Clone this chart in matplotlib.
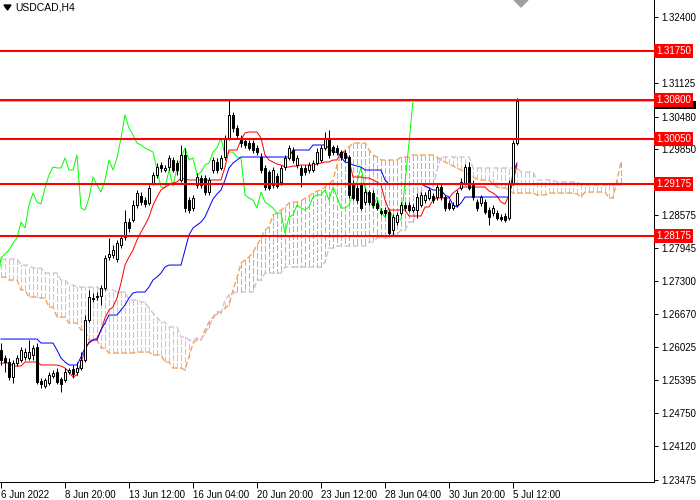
import numpy as np
import matplotlib.pyplot as plt
from matplotlib.patches import Polygon, Rectangle

plt.rcParams['font.family'] = ['Liberation Sans', 'DejaVu Sans']

### chart data, USDCAD H4, bar 0 = 6 Jun 2022
symbol = 'USDCAD,H4'

opens = [1.25975, 1.25821, 1.25744, 1.25454, 1.25724, 1.25782, 1.25840, 1.25821, 1.25879, 1.26033,
         1.25377, 1.25280, 1.25339, 1.25474, 1.25551, 1.25416, 1.25396, 1.25551, 1.25609, 1.25551,
         1.25628, 1.25782, 1.26554, 1.26979, 1.26998, 1.27017, 1.27172, 1.27770, 1.27809, 1.27731,
         1.28002, 1.28156, 1.28445, 1.28484, 1.28773, 1.28947, 1.28870, 1.28812, 1.29198, 1.29353,
         1.29546, 1.29449, 1.29507, 1.29642, 1.29584, 1.29256, 1.29739, 1.28870, 1.28716, 1.29160,
         1.29295, 1.29295, 1.29024, 1.29449, 1.29604, 1.29488, 1.29700, 1.30067, 1.30511, 1.30260,
         1.30067, 1.30009, 1.29970, 1.29970, 1.29874, 1.29700, 1.29488, 1.29410, 1.29160, 1.29333,
         1.29218, 1.29507, 1.29681, 1.29835, 1.29546, 1.29488, 1.29488, 1.29449, 1.29449, 1.29584,
         1.29642, 1.29874, 1.30067, 1.29893, 1.29874, 1.29796, 1.29777, 1.29700, 1.29198, 1.29102,
         1.29160, 1.28831, 1.29024, 1.29005, 1.28812, 1.28658, 1.28677, 1.28638, 1.28291, 1.28445,
         1.28619, 1.28773, 1.28773, 1.28677, 1.28677, 1.28773, 1.28870, 1.28909, 1.28947, 1.28928,
         1.29121, 1.28928, 1.28812, 1.28716, 1.28773, 1.29102, 1.29198, 1.29507, 1.29198, 1.28831,
         1.28812, 1.28831, 1.28677, 1.28619, 1.28619, 1.28542, 1.28561, 1.28523, 1.29198, 1.29970]

highs = [1.26110, 1.25879, 1.25821, 1.25782, 1.25879, 1.26033, 1.26014, 1.26168, 1.26072, 1.26110,
         1.25435, 1.25435, 1.25551, 1.25590, 1.25628, 1.25454, 1.25628, 1.25628, 1.25686, 1.25744,
         1.25936, 1.26650, 1.27133, 1.27075, 1.27094, 1.27230, 1.27809, 1.28137, 1.28002, 1.28098,
         1.28195, 1.28677, 1.28523, 1.28870, 1.29063, 1.29024, 1.28928, 1.29160, 1.29410, 1.29584,
         1.29604, 1.29546, 1.29739, 1.29700, 1.29642, 1.29932, 1.29874, 1.28928, 1.28967, 1.29391,
         1.29353, 1.29353, 1.29314, 1.29700, 1.29681, 1.29739, 1.30125, 1.30800, 1.30568, 1.30318,
         1.30125, 1.30067, 1.30028, 1.30028, 1.29932, 1.29777, 1.29546, 1.29449, 1.29507, 1.29391,
         1.29546, 1.29739, 1.29932, 1.29893, 1.29739, 1.29546, 1.29546, 1.29604, 1.29642, 1.29874,
         1.29932, 1.30182, 1.30221, 1.29932, 1.29932, 1.29835, 1.29835, 1.29739, 1.29256, 1.29160,
         1.29218, 1.29102, 1.29063, 1.29063, 1.28870, 1.28716, 1.28735, 1.28677, 1.28600, 1.28638,
         1.28831, 1.28831, 1.28831, 1.28793, 1.29005, 1.29024, 1.29024, 1.29121, 1.29005, 1.29198,
         1.29179, 1.28967, 1.28870, 1.28831, 1.29063, 1.29295, 1.29565, 1.29604, 1.29256, 1.28889,
         1.28967, 1.28889, 1.28735, 1.28773, 1.28677, 1.28600, 1.28619, 1.29256, 1.30028, 1.30839]

lows = [1.25686, 1.25551, 1.25396, 1.25339, 1.25667, 1.25744, 1.25782, 1.25782, 1.25782, 1.25319,
        1.25242, 1.25242, 1.25300, 1.25435, 1.25319, 1.25164, 1.25358, 1.25512, 1.25435, 1.25493,
        1.25590, 1.25744, 1.26515, 1.26901, 1.26940, 1.26843, 1.27133, 1.27712, 1.27751, 1.27674,
        1.27944, 1.28098, 1.28252, 1.28445, 1.28716, 1.28773, 1.28735, 1.28773, 1.29160, 1.29295,
        1.29410, 1.29410, 1.29449, 1.29410, 1.29353, 1.29218, 1.28638, 1.28619, 1.28658, 1.29102,
        1.29102, 1.28965, 1.28965, 1.29391, 1.29391, 1.29449, 1.29642, 1.30028, 1.30182, 1.30067,
        1.29893, 1.29874, 1.29835, 1.29777, 1.29739, 1.29391, 1.29063, 1.29063, 1.29102, 1.29102,
        1.29160, 1.29449, 1.29642, 1.29584, 1.29488, 1.29121, 1.29353, 1.29391, 1.29410, 1.29546,
        1.29604, 1.29835, 1.29681, 1.29739, 1.29739, 1.29642, 1.29623, 1.28909, 1.28870, 1.28812,
        1.28677, 1.28773, 1.28773, 1.28716, 1.28677, 1.28580, 1.28561, 1.28195, 1.28195, 1.28388,
        1.28580, 1.28658, 1.28638, 1.28638, 1.28523, 1.28735, 1.28812, 1.28870, 1.28812, 1.28870,
        1.28870, 1.28658, 1.28677, 1.28677, 1.28735, 1.29063, 1.29160, 1.29063, 1.28870, 1.28658,
        1.28754, 1.28600, 1.28388, 1.28561, 1.28484, 1.28465, 1.28445, 1.28484, 1.29160, 1.29932]

closes = [1.25782, 1.25744, 1.25454, 1.25724, 1.25821, 1.25975, 1.25936, 1.25936, 1.26014, 1.25358,
          1.25319, 1.25396, 1.25493, 1.25532, 1.25358, 1.25319, 1.25551, 1.25590, 1.25512, 1.25628,
          1.25782, 1.26554, 1.26998, 1.26959, 1.27017, 1.27172, 1.27751, 1.27828, 1.27905, 1.28040,
          1.28137, 1.28445, 1.28330, 1.28773, 1.29005, 1.28831, 1.28793, 1.29102, 1.29353, 1.29507,
          1.29488, 1.29488, 1.29681, 1.29449, 1.29449, 1.29739, 1.28716, 1.28677, 1.28909, 1.29314,
          1.29160, 1.29024, 1.29256, 1.29642, 1.29449, 1.29681, 1.30067, 1.30511, 1.30260, 1.30125,
          1.29970, 1.29932, 1.29874, 1.29835, 1.29796, 1.29449, 1.29121, 1.29102, 1.29449, 1.29140,
          1.29488, 1.29681, 1.29874, 1.29642, 1.29681, 1.29353, 1.29410, 1.29546, 1.29584, 1.29796,
          1.29874, 1.30067, 1.29739, 1.29796, 1.29796, 1.29700, 1.29681, 1.28967, 1.28909, 1.28870,
          1.28716, 1.29024, 1.28831, 1.28773, 1.28716, 1.28619, 1.28619, 1.28233, 1.28542, 1.28580,
          1.28773, 1.28716, 1.28677, 1.28735, 1.28928, 1.28967, 1.28967, 1.29063, 1.28870, 1.29121,
          1.28928, 1.28716, 1.28716, 1.28773, 1.29005, 1.29218, 1.29507, 1.29102, 1.28928, 1.28716,
          1.28928, 1.28638, 1.28542, 1.28716, 1.28523, 1.28503, 1.28484, 1.29198, 1.29970, 1.30781]

# Ichimoku lines
tenkan = [1.25724, 1.25724, 1.25724, 1.25667, 1.25667, 1.25667, 1.25744, 1.25744, 1.25744, 1.25744,
          1.25686, 1.25686, 1.25686, 1.25686, 1.25686, 1.25667, 1.25628, 1.25551, 1.25454, 1.25493,
          1.25724, 1.25975, 1.26129, 1.26168, 1.26207, 1.26361, 1.26593, 1.26747, 1.26805, 1.26979,
          1.27268, 1.27615, 1.27770, 1.27905, 1.28098, 1.28252, 1.28388, 1.28542, 1.28773, 1.28928,
          1.29063, 1.29121, 1.29160, 1.29198, 1.29218, 1.29295, 1.29275, 1.29256, 1.29256, 1.29256,
          1.29256, 1.29256, 1.29256, 1.29256, 1.29256, 1.29256, 1.29507, 1.29835, 1.29835, 1.29835,
          1.30028, 1.30163, 1.30182, 1.30182, 1.30182, 1.30067, 1.29739, 1.29642, 1.29604, 1.29565,
          1.29546, 1.29507, 1.29507, 1.29526, 1.29526, 1.29546, 1.29546, 1.29546, 1.29546, 1.29565,
          1.29584, 1.29604, 1.29604, 1.29642, 1.29642, 1.29796, 1.29796, 1.29642, 1.29314, 1.29314,
          1.29314, 1.29295, 1.29295, 1.29256, 1.29218, 1.29160, 1.28870, 1.28677, 1.28677, 1.28677,
          1.28677, 1.28677, 1.28561, 1.28561, 1.28561, 1.28561, 1.28735, 1.28735, 1.28870, 1.28909,
          1.28909, 1.28909, 1.28909, 1.29005, 1.29063, 1.29121, 1.29121, 1.29121, 1.29121, 1.29121,
          1.29121, 1.29121, 1.29044, 1.29005, 1.28947, 1.28831, 1.28793, 1.28967, 1.29218, 1.29546]

kijun = [1.26187, 1.26187, 1.26187, 1.26187, 1.26187, 1.26187, 1.26187, 1.26187, 1.26187, 1.26187,
         1.26110, 1.26110, 1.26110, 1.26110, 1.25975, 1.25821, 1.25744, 1.25686, 1.25686, 1.25686,
         1.25840, 1.26014, 1.26110, 1.26168, 1.26168, 1.26361, 1.26496, 1.26650, 1.26650, 1.26650,
         1.26747, 1.26843, 1.26979, 1.27075, 1.27094, 1.27094, 1.27094, 1.27191, 1.27326, 1.27384,
         1.27461, 1.27577, 1.27615, 1.27615, 1.27615, 1.27615, 1.27905, 1.28195, 1.28330, 1.28388,
         1.28445, 1.28542, 1.28716, 1.28889, 1.28986, 1.29063, 1.29256, 1.29488, 1.29584, 1.29642,
         1.29700, 1.29700, 1.29700, 1.29700, 1.29700, 1.29700, 1.29700, 1.29700, 1.29700, 1.29700,
         1.29700, 1.29700, 1.29700, 1.29835, 1.29835, 1.29835, 1.29835, 1.29835, 1.29932, 1.29932,
         1.29932, 1.29932, 1.29874, 1.29796, 1.29796, 1.29700, 1.29604, 1.29584, 1.29546, 1.29526,
         1.29507, 1.29449, 1.29449, 1.29449, 1.29449, 1.29449, 1.29256, 1.29179, 1.29179, 1.29179,
         1.29179, 1.29179, 1.29179, 1.29179, 1.29179, 1.29179, 1.29140, 1.29102, 1.29063, 1.29063,
         1.29063, 1.28967, 1.28928, 1.28773, 1.28735, 1.28812, 1.28928, 1.28928, 1.28928, 1.28928,
         1.28928, 1.28928, 1.28928, 1.28928, 1.28928, 1.28928, 1.28928, 1.28928, 1.29391, 1.29584]

# senkou spans, already plotted 26 bars ahead (bars 0..155)
span_a = [1.27384, 1.27384, 1.27326, 1.27326, 1.27326, 1.27133, 1.27133, 1.26998, 1.26998, 1.26998,
          1.26979, 1.26979, 1.26805, 1.26805, 1.26612, 1.26612, 1.26612, 1.26496, 1.26496, 1.26496,
          1.26361, 1.26361, 1.26168, 1.26168, 1.26168, 1.26014, 1.26014, 1.25917, 1.25917, 1.25917,
          1.25917, 1.25917, 1.25917, 1.25917, 1.25936, 1.25936, 1.25936, 1.25936, 1.25879, 1.25879,
          1.25879, 1.25744, 1.25744, 1.25628, 1.25628, 1.25628, 1.25590, 1.25840, 1.26110, 1.26168,
          1.26168, 1.26361, 1.26515, 1.26612, 1.26708, 1.26708, 1.26786, 1.26843, 1.27133, 1.27365,
          1.27654, 1.27712, 1.27770, 1.27866, 1.28002, 1.28137, 1.28291, 1.28349, 1.28580, 1.28619,
          1.28677, 1.28735, 1.28812, 1.28831, 1.28831, 1.28851, 1.28909, 1.28947, 1.29005, 1.29044,
          1.29063, 1.29121, 1.29179, 1.29256, 1.29546, 1.29739, 1.29835, 1.29893, 1.29970, 1.29970,
          1.29970, 1.29970, 1.29835, 1.29739, 1.29700, 1.29642, 1.29642, 1.29642, 1.29642, 1.29642,
          1.29700, 1.29700, 1.29700, 1.29739, 1.29739, 1.29739, 1.29739, 1.29739, 1.29739, 1.29700,
          1.29642, 1.29604, 1.29565, 1.29526, 1.29488, 1.29449, 1.29410, 1.29353, 1.29314, 1.29275,
          1.29256, 1.29256, 1.29256, 1.29179, 1.29121, 1.29102, 1.29102, 1.29063, 1.29005, 1.29005,
          1.29005, 1.29005, 1.29005, 1.29005, 1.28967, 1.28967, 1.28967, 1.29005, 1.29005, 1.29005,
          1.29005, 1.29005, 1.29005, 1.29005, 1.28986, 1.28928, 1.29024, 1.29024, 1.29024, 1.29024,
          1.29024, 1.29024, 1.28909, 1.28909, 1.29256, 1.29604]

span_b = [1.27731, 1.27731, 1.27731, 1.27731, 1.27731, 1.27615, 1.27615, 1.27615, 1.27558, 1.27558,
          1.27558, 1.27461, 1.27461, 1.27461, 1.27461, 1.27326, 1.27326, 1.27230, 1.27230, 1.27191,
          1.27191, 1.27191, 1.27191, 1.27191, 1.27191, 1.27133, 1.27133, 1.27133, 1.27133, 1.27094,
          1.27094, 1.27094, 1.26940, 1.26940, 1.26940, 1.26901, 1.26901, 1.26786, 1.26689, 1.26612,
          1.26515, 1.26515, 1.26419, 1.26419, 1.26419, 1.26226, 1.26226, 1.26168, 1.26168, 1.26207,
          1.26168, 1.26303, 1.26419, 1.26593, 1.26670, 1.26689, 1.26940, 1.27036, 1.27075, 1.27094,
          1.27094, 1.27094, 1.27094, 1.27094, 1.27326, 1.27326, 1.27461, 1.27461, 1.27461, 1.27461,
          1.27461, 1.27577, 1.27577, 1.27577, 1.27577, 1.27577, 1.27577, 1.27577, 1.27577, 1.27577,
          1.27577, 1.27674, 1.27944, 1.27944, 1.27982, 1.27982, 1.27982, 1.27982, 1.27982, 1.27982,
          1.27982, 1.27982, 1.28059, 1.28059, 1.28137, 1.28137, 1.28137, 1.28137, 1.28214, 1.28214,
          1.28291, 1.28291, 1.28445, 1.28445, 1.28773, 1.29024, 1.29121, 1.29121, 1.29121, 1.29449,
          1.29700, 1.29700, 1.29700, 1.29700, 1.29700, 1.29700, 1.29700, 1.29700, 1.29488, 1.29488,
          1.29488, 1.29488, 1.29488, 1.29488, 1.29488, 1.29488, 1.29488, 1.29488, 1.29488, 1.29488,
          1.29410, 1.29410, 1.29410, 1.29410, 1.29256, 1.29256, 1.29256, 1.29256, 1.29256, 1.29218,
          1.29218, 1.29218, 1.29218, 1.29218, 1.29218, 1.29160, 1.29160, 1.29160, 1.29160, 1.29160,
          1.29160, 1.29160, 1.29160, 1.29160, 1.29160, 1.29160]

chikou_shift = 26

levels = [1.31750, 1.30800, 1.30050, 1.29175, 1.28175]
price_ticks = [1.32400, 1.31125, 1.30480, 1.29850, 1.28575, 1.27945, 1.27300,
               1.26670, 1.26025, 1.25395, 1.24750, 1.24120, 1.23475]
time_ticks = [0, 16, 32, 48, 64, 80, 96, 112, 128]
time_labels = ['6 Jun 2022', '8 Jun 20:00', '13 Jun 12:00', '16 Jun 04:00', '20 Jun 20:00',
               '23 Jun 12:00', '28 Jun 04:00', '30 Jun 20:00', '5 Jul 12:00']

### figure, laid out like the terminal window
fig = plt.figure(figsize=(7, 5), dpi=100)
ax = fig.add_axes([0, 18 / 500, 654 / 700, 482 / 500])
ax.set_xlim(-0.25, 163.25)
ax.set_ylim(1.23428, 1.3273)

px = 0.72  # one pixel in points
dot = (0, (4, 2))
orange = '#F4A460'
thistle = '#D8BFD8'

### cloud: dotted vertical stroke per bar between the spans
a = np.array(span_a)
b = np.array(span_b)
cx = np.arange(len(a))
up = a >= b
for mask, colr in [(up, orange), (~up, thistle)]:
    xs = np.column_stack([cx[mask], cx[mask], np.full(mask.sum(), np.nan)]).ravel()
    ys = np.column_stack([a[mask], b[mask], np.full(mask.sum(), np.nan)]).ravel()
    ax.plot(xs, ys, color=colr, ls=dot, lw=1.0, antialiased=False, zorder=1)
ax.plot(cx, a, color=orange, ls=dot, lw=1.0, zorder=1)
ax.plot(cx, b, color=thistle, ls=dot, lw=1.0, zorder=1)

### ichimoku lines
bars = np.arange(len(closes))
ax.plot(bars - chikou_shift, closes, color='#00FF00', lw=px, zorder=2)
ax.plot(bars, tenkan, color='#FF0000', lw=px, zorder=2)
ax.plot(bars, kijun, color='#0000FF', lw=px, zorder=2)

### candles
o = np.array(opens)
c = np.array(closes)
ax.vlines(bars, lows, highs, color='black', lw=px, zorder=3)
bottoms = np.minimum(o, c)
heights = np.maximum(np.abs(c - o), 0.00002)
fills = ['white' if cc > oo else 'black' for oo, cc in zip(o, c)]
ax.bar(bars, heights, bottom=bottoms, width=0.5, color=fills, edgecolor='black',
       linewidth=px, zorder=4)

### bid line, current price marker sits under the level label
ax.axhline(closes[-1], color='#C0C0C0', lw=px, zorder=2)
ax.add_patch(Rectangle((1.0015, closes[-1] - 0.0015), 0.062, 0.0015, fc='black', ec='none',
                       transform=ax.get_yaxis_transform(), clip_on=False, zorder=9))

### horizontal levels
for lvl in levels:
    ax.axhline(lvl, color='#FF0000', lw=1.5, zorder=6)
    ax.text(1.003, lvl, f'{lvl:.5f}', transform=ax.get_yaxis_transform(), color='white',
            fontsize=7, ha='left', va='center', clip_on=False, zorder=10,
            bbox=dict(boxstyle='square,pad=0.2', fc='#FF0000', ec='none'))

### axes
for side in ['top', 'left']:
    ax.spines[side].set_visible(False)
for side in ['right', 'bottom']:
    ax.spines[side].set_linewidth(px)
ax.yaxis.tick_right()
ax.set_yticks(price_ticks)
ax.set_yticklabels([f'{t:.5f}' for t in price_ticks])
ax.set_xticks(time_ticks)
ax.set_xticklabels(time_labels, ha='left')
ax.tick_params(axis='y', direction='out', length=3, width=px, labelsize=7, pad=2)
ax.tick_params(axis='x', direction='out', length=4, width=px, labelsize=7, pad=2)

### symbol caption and shift marker
ax.add_patch(Polygon([(4 / 654, 1 - 5 / 482), (11 / 654, 1 - 5 / 482), (7.5 / 654, 1 - 10 / 482)],
                     closed=True, color='black', transform=ax.transAxes, clip_on=False))
ax.text(15 / 654, 1 - 8 / 482, symbol, transform=ax.transAxes, fontsize=7.5,
        ha='left', va='center')
ax.add_patch(Polygon([(514 / 654, 1.0), (528 / 654, 1.0), (521 / 654, 1 - 7 / 482)],
                     closed=True, color='#A0A0A0', transform=ax.transAxes, clip_on=False))

fig.savefig('out.png', dpi=100)
